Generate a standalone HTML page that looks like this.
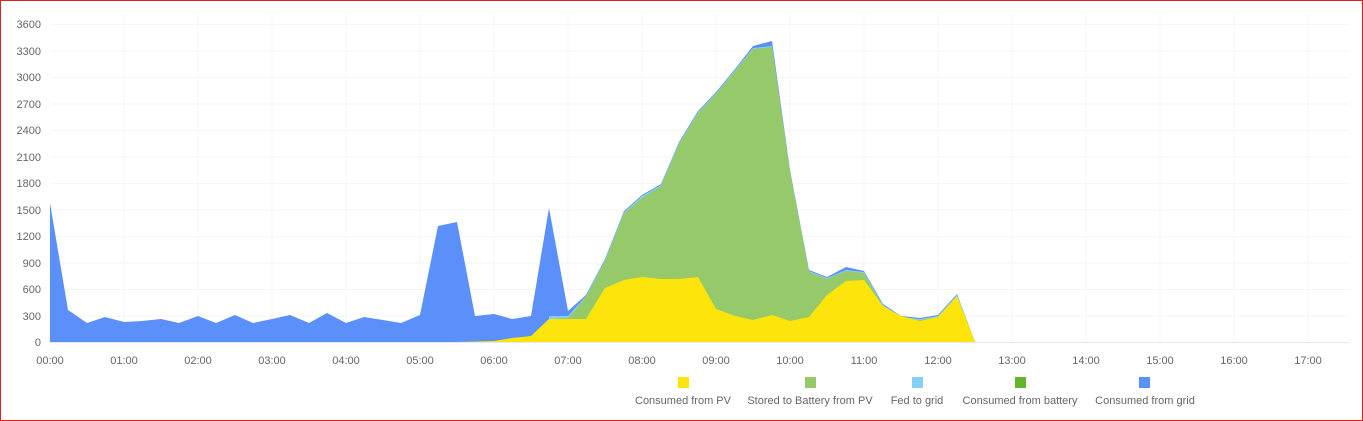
<!DOCTYPE html>
<html><head><meta charset="utf-8"><style>
html,body{margin:0;padding:0;background:#fff;}
svg{display:block;font-family:"Liberation Sans",sans-serif;}
</style></head><body>
<svg width="1363" height="421" viewBox="0 0 1363 421">
<rect x="0.5" y="0.5" width="1362" height="420" fill="#fff" stroke="#e02020" stroke-width="1"/>
<g stroke="#f6f6f6" stroke-width="1">
<line x1="50" x2="1350" y1="24.5" y2="24.5"/><line x1="50" x2="1350" y1="51" y2="51"/><line x1="50" x2="1350" y1="77.5" y2="77.5"/><line x1="50" x2="1350" y1="104" y2="104"/><line x1="50" x2="1350" y1="130.5" y2="130.5"/><line x1="50" x2="1350" y1="157" y2="157"/><line x1="50" x2="1350" y1="183.5" y2="183.5"/><line x1="50" x2="1350" y1="210" y2="210"/><line x1="50" x2="1350" y1="236.5" y2="236.5"/><line x1="50" x2="1350" y1="263" y2="263"/><line x1="50" x2="1350" y1="289.5" y2="289.5"/><line x1="50" x2="1350" y1="316" y2="316"/>
<line x1="124" x2="124" y1="14" y2="342"/><line x1="198" x2="198" y1="14" y2="342"/><line x1="272" x2="272" y1="14" y2="342"/><line x1="346" x2="346" y1="14" y2="342"/><line x1="420" x2="420" y1="14" y2="342"/><line x1="494" x2="494" y1="14" y2="342"/><line x1="568" x2="568" y1="14" y2="342"/><line x1="642" x2="642" y1="14" y2="342"/><line x1="716" x2="716" y1="14" y2="342"/><line x1="790" x2="790" y1="14" y2="342"/><line x1="864" x2="864" y1="14" y2="342"/><line x1="938" x2="938" y1="14" y2="342"/><line x1="1012" x2="1012" y1="14" y2="342"/><line x1="1086" x2="1086" y1="14" y2="342"/><line x1="1160" x2="1160" y1="14" y2="342"/><line x1="1234" x2="1234" y1="14" y2="342"/><line x1="1308" x2="1308" y1="14" y2="342"/>
</g>
<polygon fill="#5b8ff9" points="50,342 50,203 68,310 87,323 105,317 124,322 142,321 161,319 179,323 198,316 216,323 235,315 253,323 272,319 290,315 309,323 327,313 346,323 364,317 383,320 401,323 420,315 438,226 457,222 475,316 494,314 512,319 531,316 549,208 568,311 586,295 605,259 624,211 642,195 661,184 679,142 698,111 716,92 735,69 753,46 772,41 790,170 809,270 827,277 846,267 864,271 883,304 901,316 920,318 938,315 957,294 975,342"/>
<polygon fill="#86d0f5" points="549,342 549,316 568,316 586,296 605,260 624,212 642,196 661,185 679,143 698,112 716,93 735,70 753,48 772,46 790,171 809,271 827,278 846,270 864,272 883,305 901,317 920,319 938,316 957,295 975,342"/>
<polygon fill="#96c96a" points="549,342 549,319 568,318 586,297 605,261 624,213 642,198 661,186 679,144 698,113 716,94 735,71 753,49 772,47 790,172 809,272 827,279 846,271 864,273 883,306 901,318 920,320 938,317 957,296 975,342"/>
<polygon fill="#fde50b" points="457,342 494,341 512,338 531,336 549,319 568,319 586,319 605,288 624,280 642,277 661,279 679,279 698,277 716,309 735,316 753,320 772,315 790,321 809,317 827,295 846,281 864,280 883,306 901,316 920,321 938,317 957,296 975,342"/>
<line x1="50" x2="1350" y1="342.5" y2="342.5" stroke="#e8e8e8"/>
<g fill="#666" font-size="11" text-anchor="end">
<text x="41" y="28">3600</text><text x="41" y="55">3300</text><text x="41" y="81">3000</text><text x="41" y="108">2700</text><text x="41" y="134">2400</text><text x="41" y="161">2100</text><text x="41" y="187">1800</text><text x="41" y="214">1500</text><text x="41" y="240">1200</text><text x="41" y="267">900</text><text x="41" y="293">600</text><text x="41" y="320">300</text><text x="41" y="346">0</text>
</g>
<g fill="#666" font-size="11" text-anchor="middle">
<text x="50" y="364">00:00</text><text x="124" y="364">01:00</text><text x="198" y="364">02:00</text><text x="272" y="364">03:00</text><text x="346" y="364">04:00</text><text x="420" y="364">05:00</text><text x="494" y="364">06:00</text><text x="568" y="364">07:00</text><text x="642" y="364">08:00</text><text x="716" y="364">09:00</text><text x="790" y="364">10:00</text><text x="864" y="364">11:00</text><text x="938" y="364">12:00</text><text x="1012" y="364">13:00</text><text x="1086" y="364">14:00</text><text x="1160" y="364">15:00</text><text x="1234" y="364">16:00</text><text x="1308" y="364">17:00</text>
</g>
<rect x="678" y="377" width="11" height="11" fill="#fde50b"/>
<rect x="805" y="377" width="11" height="11" fill="#96c96a"/>
<rect x="912" y="377" width="11" height="11" fill="#86d0f5"/>
<rect x="1015" y="377" width="11" height="11" fill="#63b52c"/>
<rect x="1139" y="377" width="11" height="11" fill="#5b8ff9"/>
<g fill="#666" font-size="11" text-anchor="middle">
<text x="683" y="404">Consumed from PV</text>
<text x="810" y="404">Stored to Battery from PV</text>
<text x="917" y="404">Fed to grid</text>
<text x="1020" y="404">Consumed from battery</text>
<text x="1145" y="404">Consumed from grid</text>
</g>
</svg>
</body></html>
